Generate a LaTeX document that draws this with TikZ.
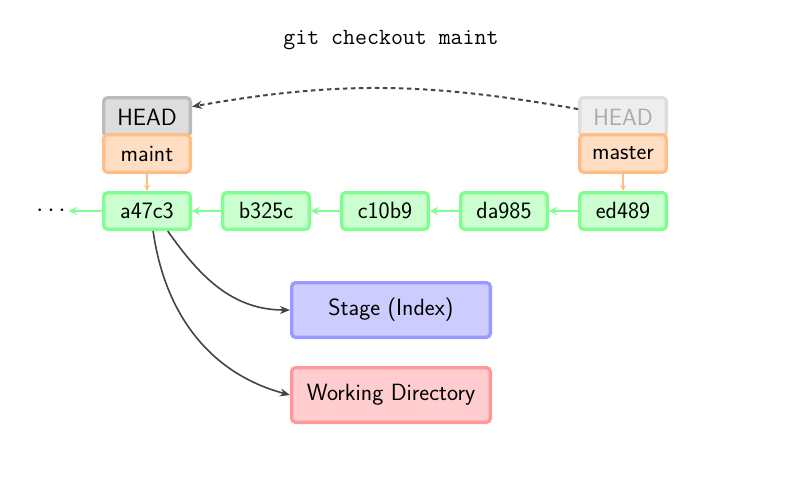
\documentclass[tikz,border=0pt]{standalone}
\usepackage{fontspec}
\usetikzlibrary{arrows.meta}
\definecolor{gB}{RGB}{128,255,144}
\definecolor{gF}{RGB}{204,255,208}
\definecolor{oB}{RGB}{255,190,133}
\definecolor{oF}{RGB}{255,222,196}
\definecolor{hB}{RGB}{187,187,187}
\definecolor{hF}{RGB}{221,221,221}
\definecolor{fB}{RGB}{221,221,221}
\definecolor{fF}{RGB}{238,238,238}
\definecolor{fT}{RGB}{170,170,170}
\definecolor{bB}{RGB}{153,153,255}
\definecolor{bF}{RGB}{204,204,255}
\definecolor{rB}{RGB}{255,153,153}
\definecolor{rF}{RGB}{255,204,208}
\definecolor{dk}{RGB}{68,68,68}
\begin{document}
\begin{tikzpicture}[x=1pt,y=-1pt,
  box/.style={rounded corners=4pt, line width=3.3pt, inner sep=0pt,
    minimum width=86.7pt, minimum height=36.7pt, font=\fontsize{23.5}{28}\selectfont\sffamily},
  commit/.style={box, draw=gB, fill=gF},
  branch/.style={box, draw=oB, fill=oF},
  headbox/.style={box, draw=hB, fill=hF, minimum height=38.7pt},
  fadehead/.style={box, draw=fB, fill=fF, text=fT, minimum height=38.7pt},
  area/.style={box, minimum width=198.7pt, minimum height=54.7pt},
  parent/.style={draw=gB, line width=2pt, -{Stealth[length=8pt,width=8pt]}},
  ref/.style={draw=oB, line width=2pt, -{Stealth[length=6pt,width=6pt]}},
  co/.style={draw=dk, line width=1.6pt, -{Stealth[length=10pt,width=8pt]}},
]
\useasboundingbox (0,0) rectangle (792,477);
\node[font=\fontsize{23.2}{27}\selectfont\ttfamily] (title) at (391,40) {git checkout maint};

\node[headbox] (hl) at (147,117) {HEAD};
\node[branch, minimum height=37.7pt] (maint) at (147,153.5) {maint};
\node[fadehead] (hr) at (623,117) {HEAD};
\node[branch, minimum height=37.7pt] (master) at (623,153.5) {master};

\node[commit] (a) at (147,211) {a47c3};
\node[commit] (b) at (266,211) {b325c};
\node[commit] (c) at (385,211) {c10b9};
\node[commit] (d) at (504,211) {da985};
\node[commit] (e) at (623,211) {ed489};
\node[font=\fontsize{23.5}{28}\selectfont, inner sep=3pt] (dots) at (51,211) {$\cdots$};

\node[area, draw=bB, fill=bF] (stage) at (391,310) {Stage (Index)};
\node[area, draw=rB, fill=rF] (wd) at (391,395) {Working Directory};

\draw[parent] (a.west) -- (dots.east);
\draw[parent] (b.west) -- (a.east);
\draw[parent] (c.west) -- (b.east);
\draw[parent] (d.west) -- (c.east);
\draw[parent] (e.west) -- (d.east);
\draw[ref] (maint.south) -- (a.north);
\draw[ref] (master.south) -- (e.north);

\draw[co] (a.-44) to[out=-55, in=180] (stage.west);
\draw[co] (a.-73) to[out=-82, in=165] (wd.west);
\draw[draw=dk, line width=2pt, dash pattern=on 4.5pt off 3.5pt, -{Stealth[length=10pt,width=8pt]}]
  (hr.170) to[out=170, in=10] (hl.13);
\end{tikzpicture}
\end{document}
